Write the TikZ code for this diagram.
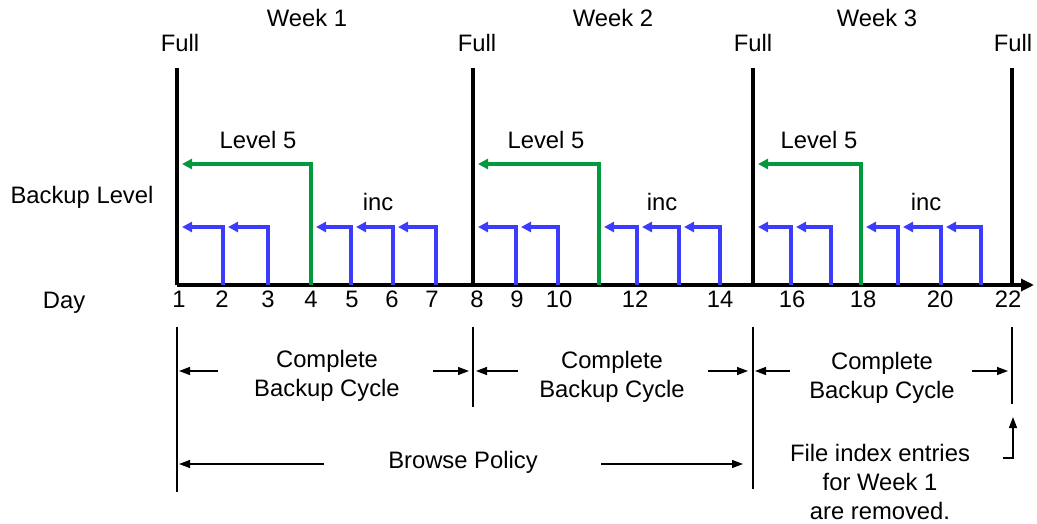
\documentclass[tikz,border=0pt]{standalone}
\usepackage{fontspec}
\setmainfont{Liberation Sans}
\usetikzlibrary{arrows.meta}
\definecolor{incblue}{RGB}{60,60,255}
\definecolor{lvlgreen}{RGB}{0,153,60}
\tikzset{
  txt/.style={font=\fontsize{23.8}{29}\selectfont, inner sep=0pt, anchor=base, align=center},
  fullline/.style={line width=3.2pt, black},
  axisline/.style={line width=3.2pt, black, -{Triangle[length=13pt,width=12pt]}},
  incarrow/.style={line width=3.2pt, incblue, -{Triangle[length=10pt,width=10pt]}},
  lvlarrow/.style={line width=3.2pt, lvlgreen, -{Triangle[length=10pt,width=10pt]}},
  thinline/.style={line width=1.3pt, black},
  dimarrow/.style={line width=1.3pt, black, -{Triangle[length=11pt,width=8pt]}},
}
\begin{document}
\begin{tikzpicture}[x=1pt,y=-1pt]
\useasboundingbox (0,0) rectangle (1037,524);

% day positions on the time axis
\foreach \d/\x in {1/177,2/223,3/268,4/311,5/351,6/393,7/436,8/473,9/516,10/558,11/599,
                   12/637,13/679,14/720,15/753,16/791,17/831,18/861,19/898,20/941,21/981,22/1012}
  \coordinate (d\d) at (\x,285);
\coordinate (axisend) at (1034,285);

% full backups
\foreach \d in {1,8,15,22} \coordinate (top\d) at (d\d |- 0,68);
\foreach \d in {1,8,15,22} \draw[fullline] (d\d) -- (top\d);

% time axis
\draw[axisline] (d1) -- (axisend);

% level 5 backups
\foreach \d/\t in {4/182,11/478,18/758} {
  \coordinate (lt\d) at (\t,164);
  \draw[lvlarrow] (d\d) |- (lt\d);
}

% incremental backups
\foreach \d/\t in {2/182,3/228,5/316,6/356,7/398,9/478,10/521,12/604,13/642,14/684,
                   16/758,17/796,19/866,20/903,21/946} {
  \coordinate (it\d) at (\t,227);
  \draw[incarrow] (d\d) |- (it\d);
}

% headings
\node[txt] (full1) at (180,52) {Full};
\node[txt] (full8) at (477,52) {Full};
\node[txt] (full15) at (753,52) {Full};
\node[txt] (full22) at (1013,52) {Full};
\node[txt] (wk1) at (307,27) {Week 1};
\node[txt] (wk2) at (613,27) {Week 2};
\node[txt] (wk3) at (877,27) {Week 3};
\node[txt] (bklevel) at (82,204) {Backup Level};
\node[txt] (daylbl) at (64,308) {Day};

\foreach \n/\x in {1/258,2/546,3/819} \node[txt] (lv\n) at (\x,149) {Level 5};
\foreach \n/\x in {1/378,2/662,3/926} \node[txt] (inc\n) at (\x,211) {inc};

% day numbers
\foreach \d/\x in {1/179,2/222,3/268,4/311,5/352,6/392,7/432,8/477,9/517,10/559,
                   12/635,14/720,16/792,18/863,20/940,22/1008}
  \node[txt] (n\d) at (\x,307) {\d};

% cycle boundaries
\coordinate (b1a) at (177,327); \coordinate (b1b) at (177,492);
\coordinate (b8a) at (473,327); \coordinate (b8b) at (473,407);
\coordinate (b15a) at (753,327); \coordinate (b15b) at (753,489);
\coordinate (b22a) at (1012,327); \coordinate (b22b) at (1012,404);
\foreach \d in {1,8,15,22} \draw[thinline] (b\d a) -- (b\d b);

% complete backup cycles (base anchor sits on the last line)
\foreach \n/\x/\y in {1/327/396,2/612/397,3/882/398}
  \node[txt] (cyc\n) at (\x,\y) {Complete\\Backup Cycle};
\foreach \n/\ta/\ha/\tb/\hb in {1/218/179/433/469, 2/518/476/708/748, 3/790/755/972/1008} {
  \coordinate (cl\n) at (\ta,371); \coordinate (clh\n) at (\ha,371);
  \coordinate (cr\n) at (\tb,371); \coordinate (crh\n) at (\hb,371);
  \draw[dimarrow] (cl\n) -- (clh\n);
  \draw[dimarrow] (cr\n) -- (crh\n);
}

% browse policy
\node[txt] (browse) at (463,468) {Browse Policy};
\coordinate (bl) at (324,464); \coordinate (blh) at (179,464);
\coordinate (br) at (601,464); \coordinate (brh) at (743,464);
\draw[dimarrow] (bl) -- (blh);
\draw[dimarrow] (br) -- (brh);

% index removal note
\node[txt] (note) at (880,519) {File index entries\\for Week 1\\are removed.};
\coordinate (nt) at (1003,458); \coordinate (nh) at (1013,417);
\draw[dimarrow] (nt) -| (nh);
\end{tikzpicture}
\end{document}
